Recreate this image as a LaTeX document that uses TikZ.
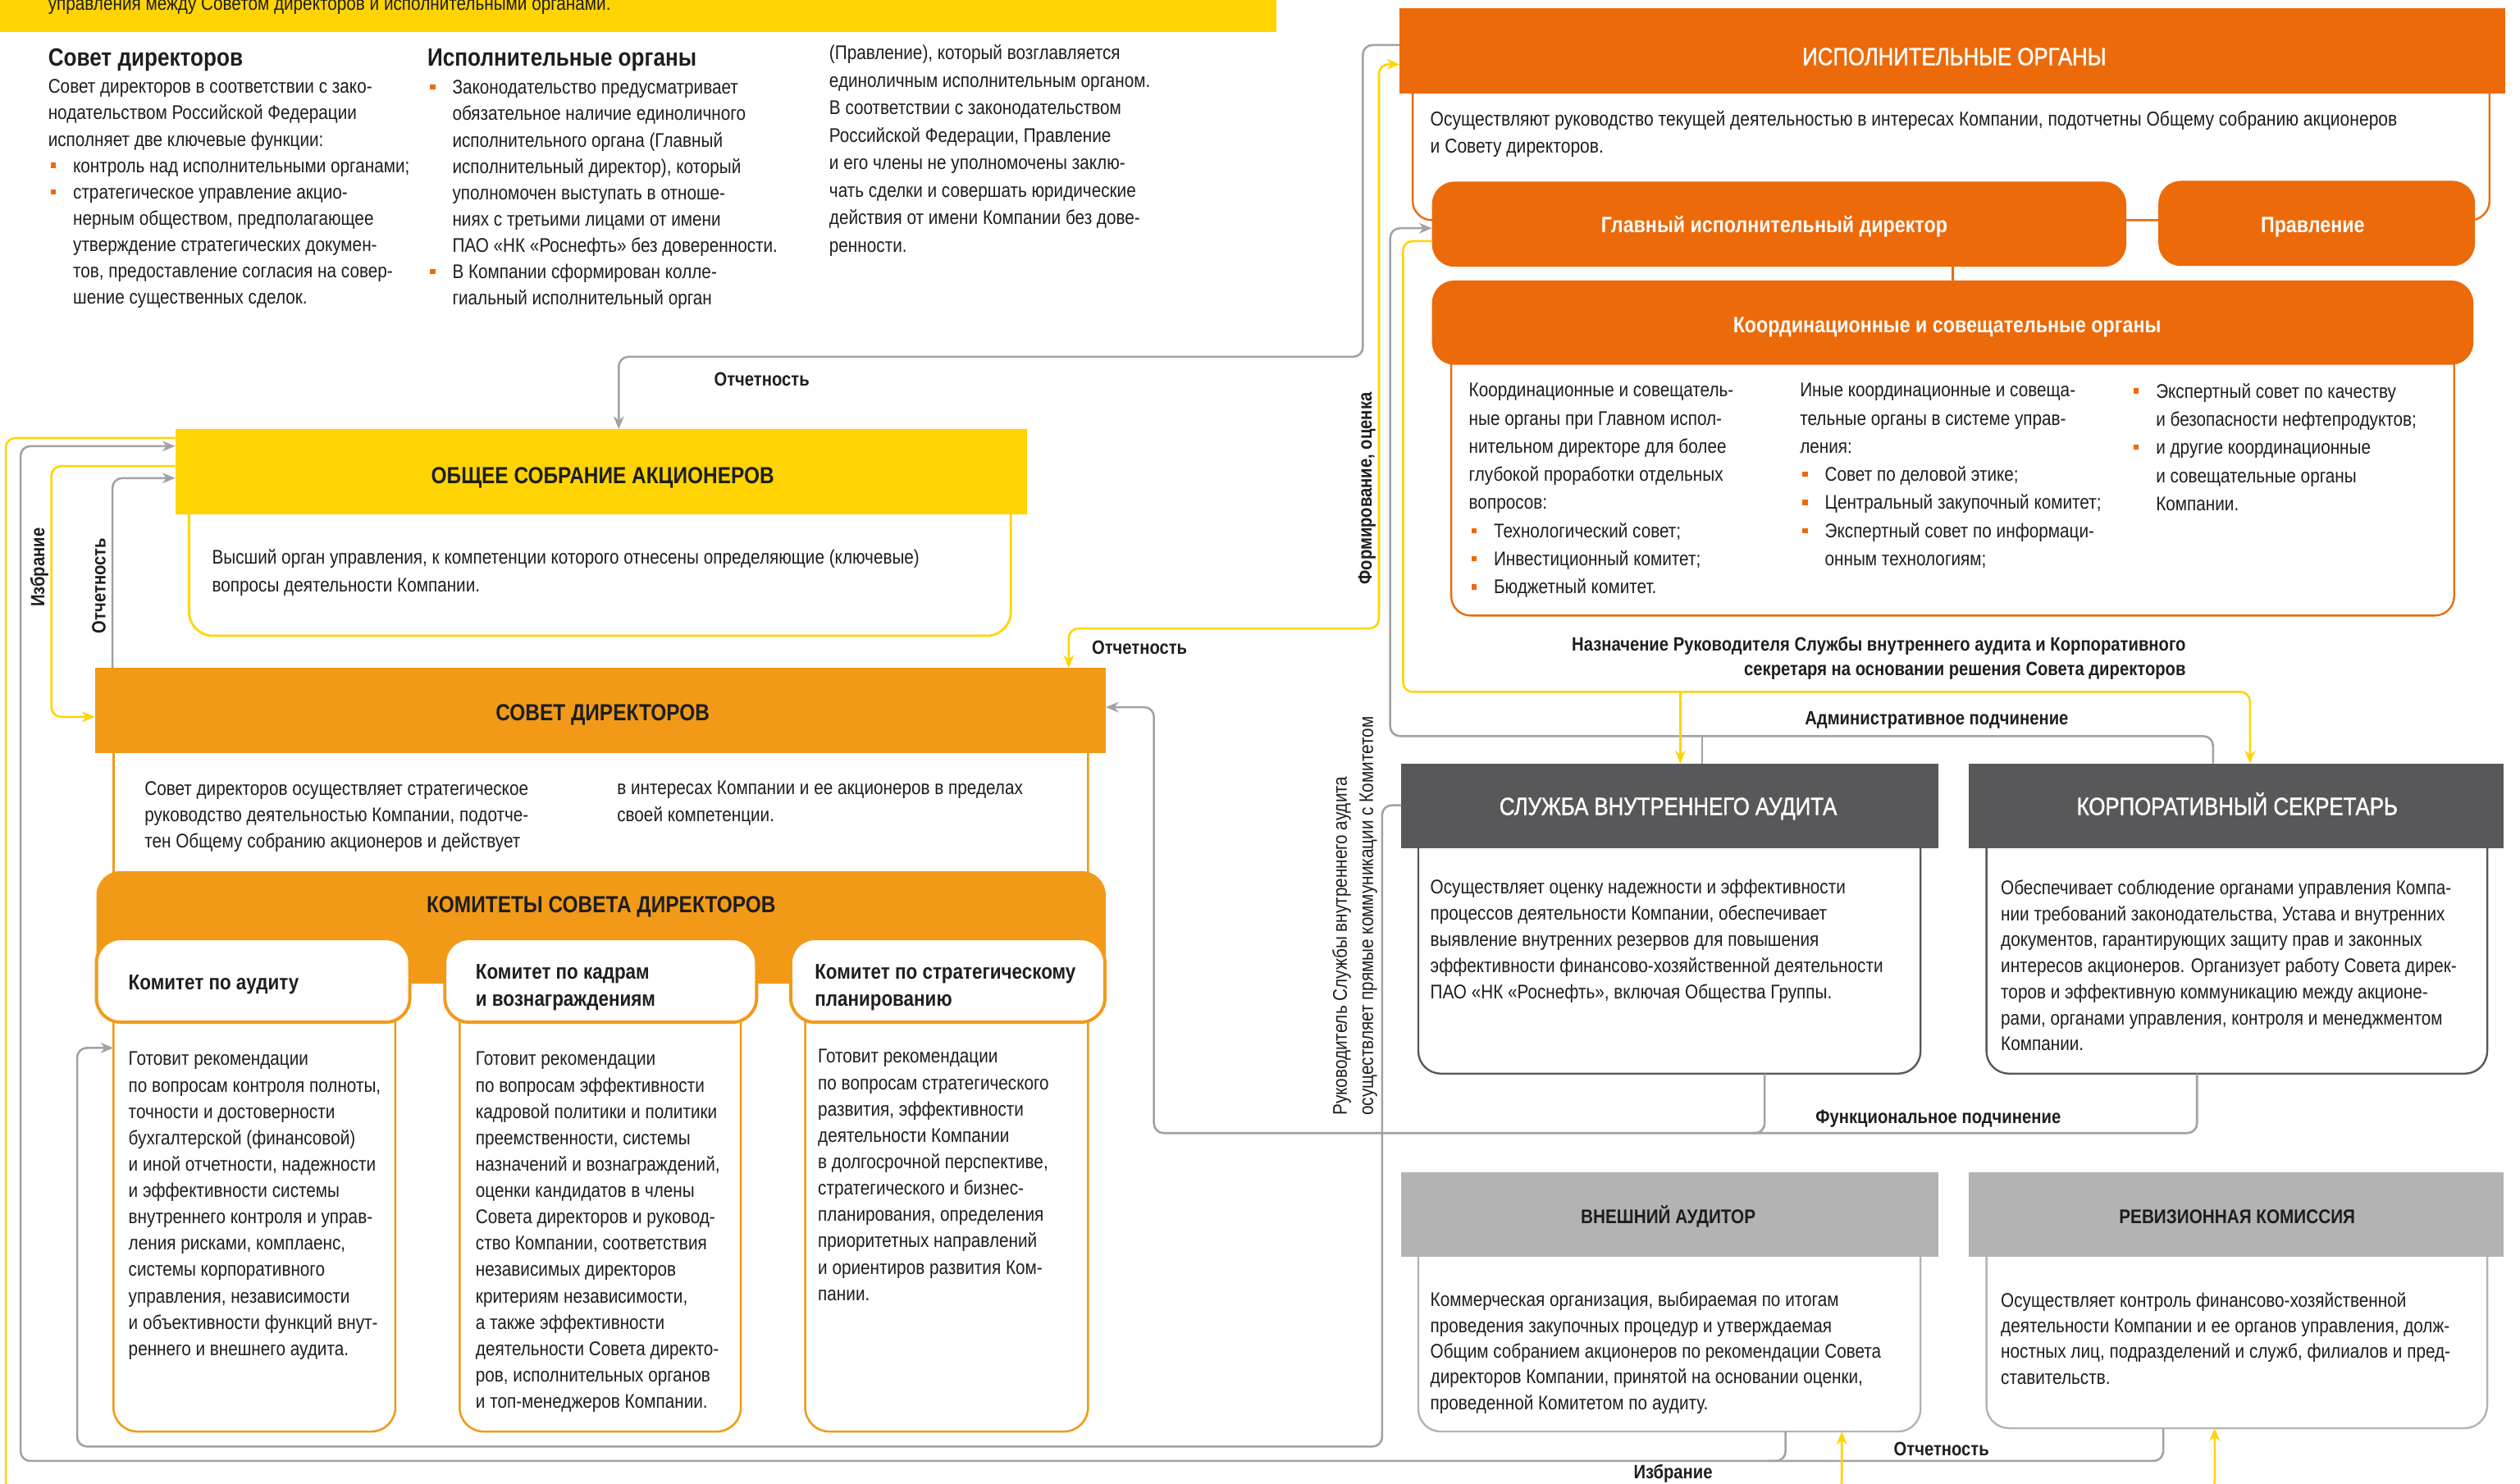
\documentclass[tikz,border=0pt]{standalone}
\usepackage{fontspec}
\setmainfont{Liberation Sans}[FakeStretch=0.86]
\newfontfamily\medfont{Liberation Sans}[FakeStretch=0.86, FakeBold=1.3]
\usetikzlibrary{arrows.meta}
\definecolor{yel}{HTML}{FFD400}
\definecolor{ora}{HTML}{EC6A0A}
\definecolor{ora2}{HTML}{F29A17}
\definecolor{lgr}{HTML}{A2A2A2}
\definecolor{dgr}{HTML}{58585A}
\definecolor{mgr}{HTML}{B3B3B3}
\definecolor{txt}{HTML}{1E1E1E}
\newcommand{\bul}{\textcolor{ora}{\rule[0.22em]{3.3pt}{3.3pt}}}
\newcommand{\blt}{\makebox[15.5pt][l]{\hspace{1.5pt}\bul}}
\newcommand{\cnt}{\hspace*{15.5pt}}
\tikzset{
  every node/.style={inner sep=0pt, outer sep=0pt},
  body/.style={anchor=north west, align=left, text=txt, font=\fontsize{12.3}{16.4}\selectfont},
  hd/.style={anchor=west, text=txt, font=\bfseries\fontsize{15.5}{18}\selectfont},
  ttl/.style={anchor=base, text=txt, font=\bfseries\fontsize{14.5}{17}\selectfont},
  wttl/.style={anchor=base, text=white, font=\medfont\fontsize{15.3}{18}\selectfont},
  wsub/.style={anchor=base, text=white, font=\bfseries\fontsize{13.8}{16}\selectfont},
  ksub/.style={align=left, text=txt, font=\bfseries\fontsize{13.3}{16.7}\selectfont},
  gttl/.style={anchor=base, text=txt, font=\bfseries\fontsize{12.3}{15}\selectfont},
  lbl/.style={text=txt, font=\bfseries\fontsize{12}{15.5}\selectfont},
  con/.style={line width=1.3pt, rounded corners=6pt},
  yl/.style={con, draw=yel},
  gl/.style={con, draw=lgr},
  arrE/.style={-{Stealth[length=8pt,width=6.5pt]}},
  arrBE/.style={{Stealth[length=8pt,width=6.5pt]}-{Stealth[length=8pt,width=6.5pt]}},
  obody/.style={draw=ora, line width=1.2pt, rounded corners=12pt, fill=white},
  o2body/.style={draw=ora2, line width=1.3pt, rounded corners=15pt, fill=white},
  ybody/.style={draw=yel, line width=1.4pt, rounded corners=15pt, fill=white},
  dbody/.style={draw=dgr, line width=1.2pt, rounded corners=14pt, fill=white},
  mbody/.style={draw=mgr, line width=1.2pt, rounded corners=14pt, fill=white},
  kbox/.style={draw=ora2, line width=2pt, rounded corners=15pt, fill=white, minimum height=52pt},
  obox/.style={fill=ora, rounded corners=14pt},
}
\begin{document}
\begin{tikzpicture}[x=1pt, y=-1pt]
\useasboundingbox (0,0) rectangle (1568,923.3);
\fill[white] (0,0) rectangle (1568,923.3);

% ---------- top banner and intro text ----------
\fill[yel] (0,0) rectangle (794,20);
\node[anchor=base west, text=txt, font=\fontsize{12.3}{16}\selectfont] (bt) at (30,6.5) {управления между Советом директоров и исполнительными органами.};

\node[hd] (h1) at (30,37.5) {Совет директоров};
\node[hd] (h2) at (266,37.5) {Исполнительные органы};

\node[body] (t1) at (30,49.5) {Совет директоров в соответствии с зако-\\нодательством Российской Федерации\\исполняет две ключевые функции:\\\blt контроль над исполнительными органами;\\\blt стратегическое управление акцио-\\\cnt нерным обществом, предполагающее\\\cnt утверждение стратегических докумен-\\\cnt тов, предоставление согласия на совер-\\\cnt шение существенных сделок.};

\node[body] (t2) at (266,50) {\blt Законодательство предусматривает\\\cnt обязательное наличие единоличного\\\cnt исполнительного органа (Главный\\\cnt исполнительный директор), который\\\cnt уполномочен выступать в отноше-\\\cnt ниях с третьими лицами от имени\\\cnt ПАО «НК «Роснефть» без доверенности.\\\blt В Компании сформирован колле-\\\cnt гиальный исполнительный орган};

\node[body, font=\fontsize{12.3}{17.1}\selectfont] (t3) at (516,28) {(Правление), который возглавляется\\единоличным исполнительным органом.\\В соответствии с законодательством\\Российской Федерации, Правление\\и его члены не уполномочены заклю-\\чать сделки и совершать юридические\\действия от имени Компании без дове-\\ренности.};

% ---------- Executive bodies ----------
\node[obody, minimum width=670pt, minimum height=97pt] (iob) at (1214,88.5) {};
\node[fill=ora, minimum width=688pt, minimum height=53pt] (io) at (1215,31.5) {};
\node[wttl] (iot) at (1216,40.5) {ИСПОЛНИТЕЛЬНЫЕ ОРГАНЫ};
\node[body, font=\fontsize{12.5}{17}\selectfont] (iotx) at (890,69) {Осуществляют руководство текущей деятельностью в интересах Компании, подотчетны Общему собранию акционеров\\и Совету директоров.};

\node[obody, minimum width=624pt, minimum height=183pt] (koordb) at (1215,291.5) {};
\node[obox, minimum width=432pt, minimum height=53pt] (gid) at (1107,139.5) {};
\node[wsub] (gidt) at (1104,144.5) {Главный исполнительный директор};
\node[obox, minimum width=197pt, minimum height=53pt] (prav) at (1441.5,139) {};
\node[wsub] (pravt) at (1439,144.5) {Правление};
\node[obox, minimum width=648pt, minimum height=52.5pt] (koord) at (1215,200.75) {};
\node[wsub] (koordt) at (1211.5,207) {Координационные и совещательные органы};
\draw[ora, line width=1.2pt] (gid.south -| koord.north) -- (koord.north);

\node[body, font=\fontsize{12.3}{17.5}\selectfont] (k1) at (914,238.5) {Координационные и совещатель-\\ные органы при Главном испол-\\нительном директоре для более\\глубокой проработки отдельных\\вопросов:\\\blt Технологический совет;\\\blt Инвестиционный комитет;\\\blt Бюджетный комитет.};
\node[body, font=\fontsize{12.3}{17.5}\selectfont] (k2) at (1120,238.5) {Иные координационные и совеща-\\тельные органы в системе управ-\\ления:\\\blt Совет по деловой этике;\\\blt Центральный закупочный комитет;\\\blt Экспертный совет по информаци-\\\cnt онным технологиям;};
\node[body, font=\fontsize{12.3}{17.5}\selectfont] (k3) at (1326,238.5) {\blt Экспертный совет по качеству\\\cnt и безопасности нефтепродуктов;\\\blt и другие координационные\\\cnt и совещательные органы\\\cnt Компании.};

% ---------- General meeting ----------
\node[ybody, minimum width=511.4pt, minimum height=95.6pt] (osab) at (373.3,347.8) {};
\node[fill=yel, minimum width=530pt, minimum height=53pt] (osa) at (374,293.5) {};
\node[ttl] (osat) at (375,300.8) {ОБЩЕЕ СОБРАНИЕ АКЦИОНЕРОВ};
\node[body, font=\fontsize{12.3}{17}\selectfont] (osatx) at (132,342) {Высший орган управления, к компетенции которого отнесены определяющие (ключевые)\\вопросы деятельности Компании.};

% ---------- Board of directors ----------
\node[o2body, minimum width=606.3pt, minimum height=140pt] (sdb) at (373.85,520) {};
\node[fill=ora2, minimum width=629pt, minimum height=53pt] (sd) at (373.5,442) {};
\node[ttl] (sdt) at (375,448.2) {СОВЕТ ДИРЕКТОРОВ};
\node[body, font=\fontsize{12.3}{16.5}\selectfont] (sdtx1) at (90,486) {Совет директоров осуществляет стратегическое\\руководство деятельностью Компании, подотче-\\тен Общему собранию акционеров и действует};
\node[body, font=\fontsize{12.3}{16.5}\selectfont] (sdtx2) at (384,486) {в интересах Компании и ее акционеров в пределах\\своей компетенции.};

% committees
\node[fill=ora2, rounded corners=15pt, minimum width=628pt, minimum height=70pt] (kom) at (374,577) {};
\fill[ora2] (kom.west |- 0,585) rectangle (kom.south east);
\node[ttl] (komt) at (374,567.7) {КОМИТЕТЫ СОВЕТА ДИРЕКТОРОВ};

\node[o2body, minimum width=175.4pt, minimum height=280pt] (kab) at (158.3,750.7) {};
\node[o2body, minimum width=175pt, minimum height=280pt] (kkb) at (373.5,750.7) {};
\node[o2body, minimum width=176pt, minimum height=280pt] (ksb) at (589,750.7) {};
\node[kbox, minimum width=195pt] (ka) at (157.5,610) {};
\node[kbox, minimum width=194pt] (kk) at (373.75,610) {};
\node[kbox, minimum width=195.5pt] (ks) at (589.75,610) {};
\node[ksub, anchor=west] (kat) at (80,612.5) {Комитет по аудиту};
\node[ksub, anchor=north west] (kkt) at (296,600) {Комитет по кадрам\\и вознаграждениям};
\node[ksub, anchor=north west] (kst) at (507,600) {Комитет по стратегическому\\планированию};

\node[body] (katx) at (80,654.5) {Готовит рекомендации\\по вопросам контроля полноты,\\точности и достоверности\\бухгалтерской (финансовой)\\и иной отчетности, надежности\\и эффективности системы\\внутреннего контроля и управ-\\ления рисками, комплаенс,\\системы корпоративного\\управления, независимости\\и объективности функций внут-\\реннего и внешнего аудита.};
\node[body] (kktx) at (296,654.5) {Готовит рекомендации\\по вопросам эффективности\\кадровой политики и политики\\преемственности, системы\\назначений и вознаграждений,\\оценки кандидатов в члены\\Совета директоров и руковод-\\ство Компании, соответствия\\независимых директоров\\критериям независимости,\\а также эффективности\\деятельности Совета директо-\\ров, исполнительных органов\\и топ-менеджеров Компании.};
\node[body] (kstx) at (509,653) {Готовит рекомендации\\по вопросам стратегического\\развития, эффективности\\деятельности Компании\\в долгосрочной перспективе,\\стратегического и бизнес-\\планирования, определения\\приоритетных направлений\\и ориентиров развития Ком-\\пании.};

% ---------- Internal audit / Corporate secretary ----------
\node[dbody, minimum width=312.5pt, minimum height=163pt] (svab) at (1038.75,586.5) {};
\node[fill=dgr, minimum width=334pt, minimum height=53pt] (sva) at (1039,501.5) {};
\node[wttl] (svat) at (1038,507) {СЛУЖБА ВНУТРЕННЕГО АУДИТА};
\node[body] (svatx) at (890,547) {Осуществляет оценку надежности и эффективности\\процессов деятельности Компании, обеспечивает\\выявление внутренних резервов для повышения\\эффективности финансово-хозяйственной деятельности\\ПАО «НК «Роснефть», включая Общества Группы.};

\node[dbody, minimum width=311.6pt, minimum height=163pt] (ksecb) at (1391.8,586.5) {};
\node[fill=dgr, minimum width=333pt, minimum height=53pt] (ksec) at (1391.5,501.5) {};
\node[wttl] (ksect) at (1392,507) {КОРПОРАТИВНЫЙ СЕКРЕТАРЬ};
\node[body, font=\fontsize{12.3}{16.2}\selectfont] (ksectx) at (1245,547.5) {Обеспечивает соблюдение органами управления Компа-\\нии требований законодательства, Устава и внутренних\\документов, гарантирующих защиту прав и законных\\интересов акционеров. Организует работу Совета дирек-\\торов и эффективную коммуникацию между акционе-\\рами, органами управления, контроля и менеджментом\\Компании.};

% ---------- External auditor / Revision commission ----------
\node[mbody, minimum width=312.5pt, minimum height=130.7pt] (vab) at (1038.75,825.35) {};
\node[fill=mgr, minimum width=334pt, minimum height=52.4pt] (va) at (1039,755.8) {};
\node[gttl] (vat) at (1038,761.4) {ВНЕШНИЙ АУДИТОР};
\node[body, font=\fontsize{12.3}{16}\selectfont] (vatx) at (890,804) {Коммерческая организация, выбираемая по итогам\\проведения закупочных процедур и утверждаемая\\Общим собранием акционеров по рекомендации Совета\\директоров Компании, принятой на основании оценки,\\проведенной Комитетом по аудиту.};

\node[mbody, minimum width=311.6pt, minimum height=128.6pt] (rkb) at (1391.8,824.3) {};
\node[fill=mgr, minimum width=333pt, minimum height=52.4pt] (rk) at (1391.5,755.8) {};
\node[gttl] (rkt) at (1392,761.4) {РЕВИЗИОННАЯ КОМИССИЯ};
\node[body, font=\fontsize{12.3}{16}\selectfont] (rktx) at (1245,804) {Осуществляет контроль финансово-хозяйственной\\деятельности Компании и ее органов управления, долж-\\ностных лиц, подразделений и служб, филиалов и пред-\\ставительств.};

% ---------- connectors ----------
% reporting: executive bodies -> general meeting
\draw[gl,arrE] (io.west |- 0,28) -- (848,28) -- (848,222) -- (385,222) -- (osa.north -| 385,0);
% board <-> executive bodies
\draw[yl,arrBE] (io.west |- 0,40) -- (858,40) -- (858,391) -- (665,391) -- (sd.north -| 665,0);
% administrative subordination
\draw[gl,arrE] (ksec.north -| 1377,0) -- (1377,458) -- (865,458) -- (865,142) -- (gid.west |- 0,142);
\draw[gl] (sva.north -| 1059,0) -- (1059,458);
% appointment
\draw[yl,arrE] (gid.west |- 0,150) -- (873,150) -- (873,430.5) -- (1400,430.5) -- (ksec.north -| 1400,0);
\draw[yl,arrE] (1045.5,430.5) -- (sva.north -| 1045.5,0);
% functional subordination
\draw[gl,arrE] (svab.south -| 1098,0) -- (1098,705) -- (718,705) -- (718,440) -- (sd.east |- 0,440);
\draw[gl] (ksecb.south -| 1367,0) -- (1367,705) -- (1090,705);
% head of internal audit -> audit committee
\draw[gl,arrE] (sva.west |- 0,501) -- (860,501) -- (860,900) -- (48,900) -- (48,652) -- (kab.west |- 0,652);
% reporting: external auditor / revision commission -> general meeting
\draw[gl,arrE] (vab.south -| 1111,0) -- (1111,909) -- (12.8,909) -- (12.8,277.6) -- (osa.west |- 0,277.6);
\draw[gl] (rkb.south -| 1346,0) -- (1346,909) -- (1100,909);
% election: general meeting -> external auditor / revision commission
\draw[yl,arrE] (osa.west |- 0,272.5) -- (3.6,272.5) -- (3.6,928) -- (1146,928) -- (vab.south -| 1146,0);
\draw[yl,arrE] (1140,928) -- (1378,928) -- (rkb.south -| 1378,0);
% election: general meeting -> board
\draw[yl,arrE] (osa.west |- 0,290) -- (32,290) -- (32,446) -- (sd.west |- 0,446);
% reporting: board -> general meeting
\draw[gl,arrE] (sd.north -| 70,0) -- (70,297.5) -- (osa.west |- 0,297.5);

% ---------- labels ----------
\node[lbl] (l1) at (474,236) {Отчетность};
\node[lbl] (l2) at (709,403) {Отчетность};
\node[lbl, rotate=90] (l3) at (850.5,304) {Формирование, оценка};
\node[lbl] (l4) at (1205,448) {Административное подчинение};
\node[lbl, align=right, anchor=north east] (l5) at (1360,396) {Назначение Руководителя Службы внутреннего аудита и Корпоративного\\секретаря на основании решения Совета директоров};
\node[lbl] (l6) at (1206,696) {Функциональное подчинение};
\node[lbl] (l7) at (1208,901.5) {Отчетность};
\node[lbl] (l8) at (1041,917) {Избрание};
\node[lbl, rotate=90] (l9) at (24.5,353) {Избрание};
\node[lbl, rotate=90] (l10) at (61.5,364.5) {Отчетность};
\node[rotate=90, anchor=north west, align=left, text=txt, font=\fontsize{12.3}{16.3}\selectfont] (l11) at (829,694) {Руководитель Службы внутреннего аудита\\осуществляет прямые коммуникации с Комитетом};
\end{tikzpicture}
\end{document}
